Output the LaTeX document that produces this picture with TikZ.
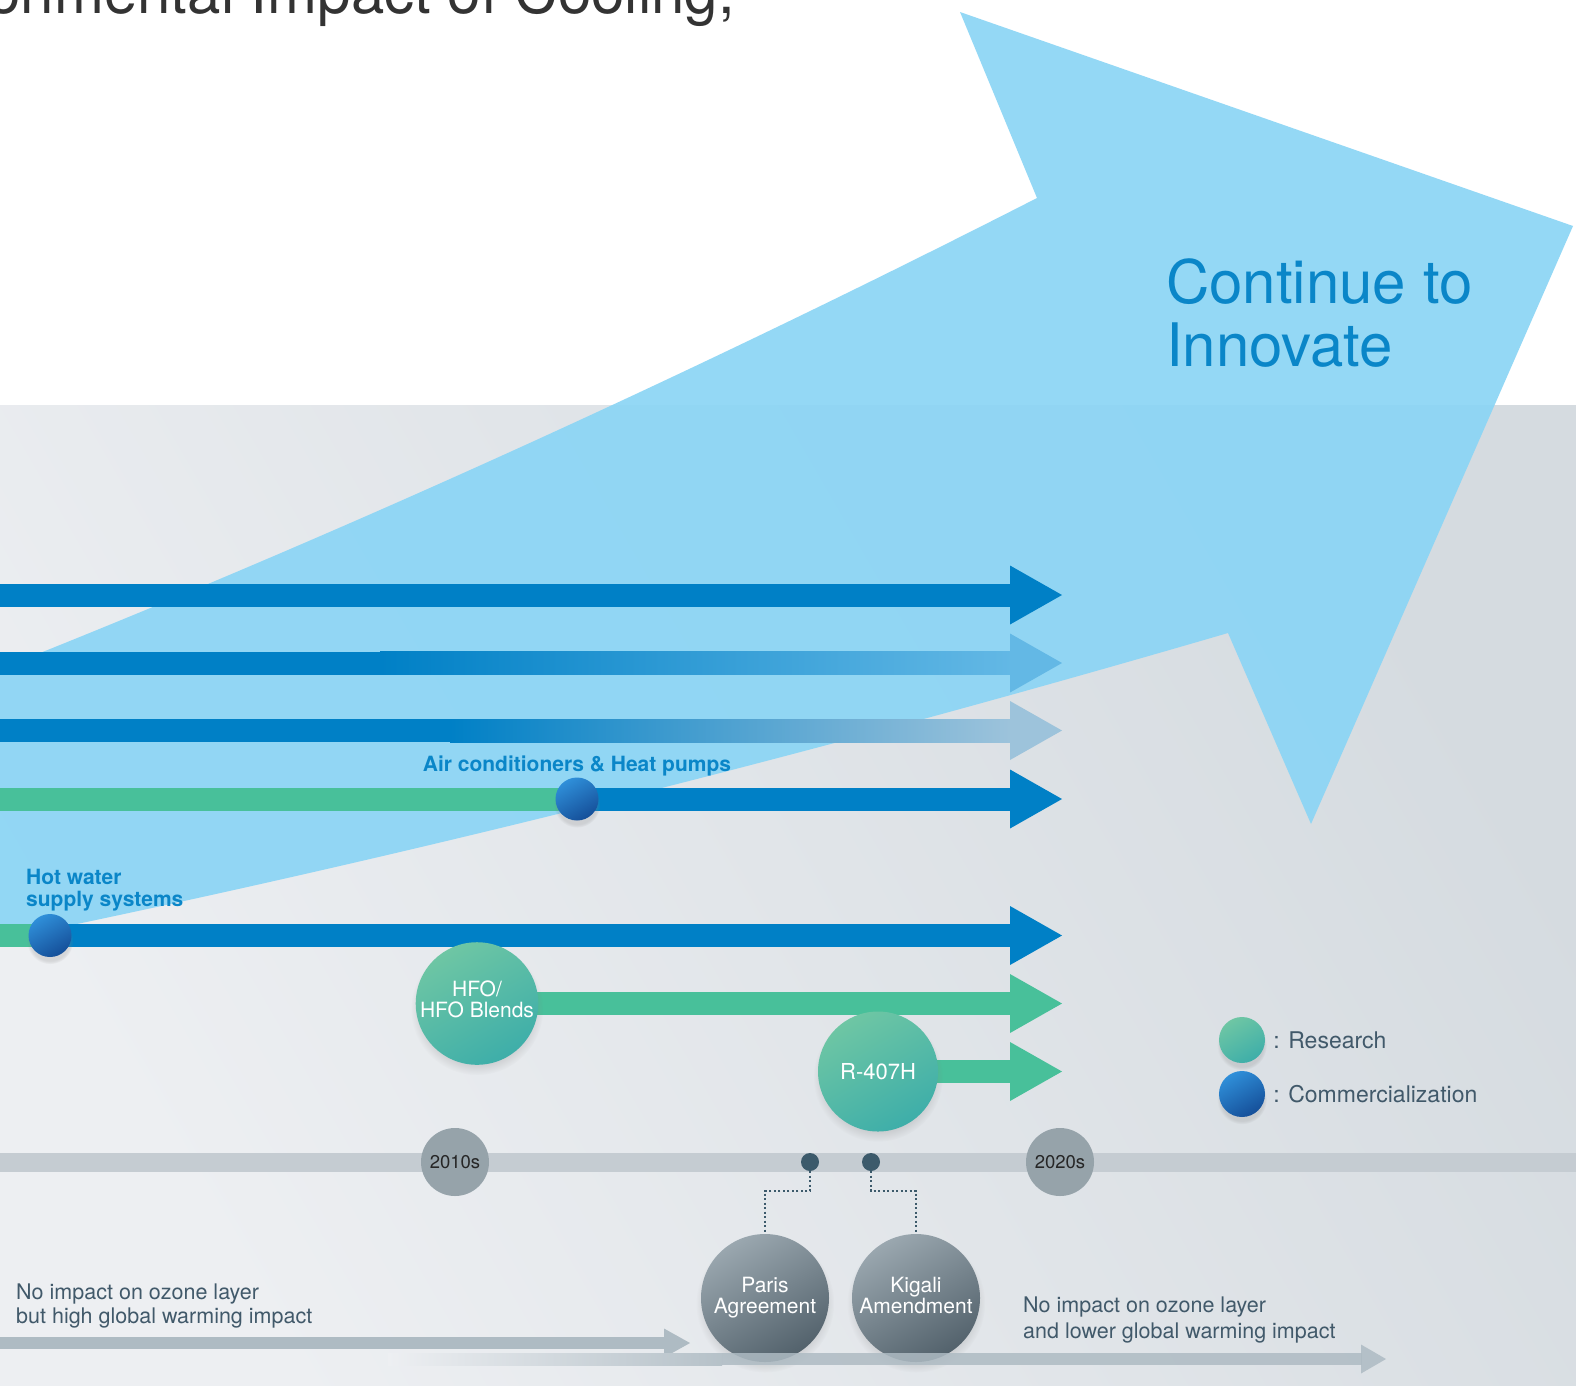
\documentclass[tikz,border=0pt]{standalone}
\usepackage{fontspec}
\setmainfont{TeX Gyre Heros}
\usetikzlibrary{positioning, calc, shadows}

\definecolor{cbar}{HTML}{0080C6}
\definecolor{cfade}{HTML}{63B8E5}
\definecolor{cgrey}{HTML}{9DC3DB}
\definecolor{cgreen}{HTML}{48C09A}
\definecolor{cbig}{HTML}{8BD5F5}
\definecolor{clabel}{HTML}{0A86C8}
\definecolor{ctext}{HTML}{41596A}
\definecolor{cline}{HTML}{C5CCD2}
\definecolor{cyear}{HTML}{96A3AA}
\definecolor{cevent}{HTML}{3C5A6B}
\definecolor{cshift}{HTML}{AEBBC3}
\definecolor{bglight}{HTML}{EDEFF2}
\definecolor{bgdark}{HTML}{D5DBE0}
\definecolor{gtop}{HTML}{6EC6A4}
\definecolor{gbot}{HTML}{3EAEA9}
\definecolor{btop}{HTML}{2F8FD9}
\definecolor{bbot}{HTML}{154F99}
\definecolor{ttop}{HTML}{9AA7AF}
\definecolor{tbot}{HTML}{53626C}
\definecolor{cheading}{HTML}{333333}

% arrow head of the timeline bars
\newcommand{\barhead}[2]{\fill[#1] ($(#2)+(-52,-29.5)$) -- (#2) -- ($(#2)+(-52,29.5)$) -- cycle;}

\begin{document}
\begin{tikzpicture}[x=1pt, y=-1pt,
  shaft/.style={line width=23pt},
  shiftbar/.style={line width=12pt, cshift},
  bubble/.style={circle, inner sep=0pt, text=white, align=center,
    font=\fontsize{21}{21}\selectfont,
    circular drop shadow={shadow xshift=0pt, shadow yshift=-5pt, shadow scale=1.08, opacity=0.22}},
  research/.style={bubble, minimum size=120pt, top color=gtop, bottom color=gbot, shading angle=30},
  commerc/.style={bubble, minimum size=43pt, top color=btop, bottom color=bbot, shading angle=30},
  treaty/.style={bubble, minimum size=128pt, top color=ttop, bottom color=tbot, shading angle=30},
  year/.style={circle, inner sep=0pt, minimum size=68pt, fill=cyear, text=black!85,
    font=\fontsize{18.5}{18.5}\selectfont},
  event/.style={circle, inner sep=0pt, minimum size=18pt, fill=cevent},
  link/.style={cevent, line width=2pt, dash pattern=on 2pt off 2.5pt},
  lbl/.style={inner sep=0pt, text=clabel, font=\bfseries\fontsize{21}{22}\selectfont},
  note/.style={inner sep=0pt, text=ctext, align=left},
  legend/.style={inner sep=0pt, text=ctext, font=\fontsize{23}{23}\selectfont},
  slogan/.style={inner sep=0pt, text=clabel, font=\fontsize{60}{63}\selectfont},
  heading/.style={inner sep=0pt, text=cheading, font=\fontsize{60}{60}\selectfont}]
\useasboundingbox (0,0) rectangle (1576,1385);

% Background
\fill[white] (0,0) rectangle (1576,405);
\shade[left color=bglight, right color=bgdark, shading angle=120] (0,405) rectangle (1576,1385);

% Heading, cut by the top edge
\node[heading, anchor=base east] (heading) at (735,13) {Environmental Impact of Cooling,};

% Big arrow
\fill[cbig, fill opacity=0.92] (0,669) .. controls (350,530) and (700,370) .. (1037,198)
  -- (960,12) -- (1573,226) -- (1311,824) -- (1228,633)
  .. controls (800,758) and (400,858) .. (0,940) -- cycle;
\node[slogan, anchor=base west] (cont) at (1166,303) {Continue to};
\node[slogan, anchor=base west] (innov) at (1166,366) {Innovate};

% Bar tips
\foreach \n/\yy in {1/595, 2/663, 3/730.5, 4/799, 5/935.5, 6/1003.5, 7/1071.5}
  \coordinate (tip\n) at (1062,\yy);
\coordinate (acpos) at (577,799);
\coordinate (hwpos) at (50,935.5);
\coordinate (hfopos) at (477,1003.5);
\coordinate (rpos) at (878,1071.5);

% Bars
\draw[shaft, cbar] (0,595) -- ($(tip1)+(-50,0)$);
\barhead{cbar}{tip1}
\fill[cbar] (0,651.5) rectangle (382,674.5);
\shade[left color=cbar, right color=cfade] (380,651.5) rectangle (1012,674.5);
\barhead{cfade}{tip2}
\fill[cbar] (0,719) rectangle (452,742);
\shade[left color=cbar, right color=cgrey] (450,719) rectangle (1012,742);
\barhead{cgrey}{tip3}
\draw[shaft, cgreen] (0,799) -- (acpos);
\draw[shaft, cbar] (acpos) -- ($(tip4)+(-50,0)$);
\barhead{cbar}{tip4}
\draw[shaft, cgreen] (0,935.5) -- (hwpos);
\draw[shaft, cbar] (hwpos) -- ($(tip5)+(-50,0)$);
\barhead{cbar}{tip5}
\draw[shaft, cgreen] (hfopos) -- ($(tip6)+(-50,0)$);
\barhead{cgreen}{tip6}
\draw[shaft, cgreen] (rpos) -- ($(tip7)+(-50,0)$);
\barhead{cgreen}{tip7}

% Milestones on the bars
\node[commerc] (acdot) at (acpos) {};
\node[commerc] (hwdot) at (hwpos) {};
\node[research] (hfo) at (hfopos) {HFO/\\HFO Blends\rule[-9pt]{0pt}{0pt}};
\node[research, font=\fontsize{22}{22}\selectfont] (r407) at (rpos) {R-407H};
\node[lbl, anchor=base] (aclabel) at (577,771) {Air conditioners \& Heat pumps};
\node[lbl, anchor=north west, align=left] (hwlabel) at (26,869) {Hot water\\supply systems};

% Timeline
\draw[line width=19pt, cline] (0,1162) -- (1576,1162);
\node[year] (y2010) at (455,1162) {2010s};
\node[year] (y2020) at (1060,1162) {2020s};
\node[event] (pdot) at (810,1162) {};
\node[event] (kdot) at (871,1162) {};
\node[treaty] (paris) at (765,1298) {Paris\\Agreement};
\node[treaty] (kigali) at (916,1298) {Kigali\\Amendment\vphantom{g}};
\draw[link] (pdot) -- ++(0,29) -| (paris);
\draw[link] (kdot) -- ++(0,29) -| (kigali);

% Refrigerant shift
\coordinate (oldtip) at (690,1343);
\coordinate (newtip) at (1386,1359);
\draw[shiftbar] (0,1343) -- ($(oldtip)+(-24,0)$);
\fill[cshift] ($(oldtip)+(-26,-14.5)$) -- (oldtip) -- ($(oldtip)+(-26,14.5)$) -- cycle;
\shade[left color=bglight, right color=cshift!88!bglight] (388,1353) rectangle (722,1365);
\draw[shiftbar, opacity=0.85] (722,1359) -- ($(newtip)+(-24,0)$);
\fill[cshift, opacity=0.85] ($(newtip)+(-25,-14.5)$) -- (newtip) -- ($(newtip)+(-25,14.5)$) -- cycle;
\node[note, anchor=north west, font=\fontsize{21.5}{24}\selectfont] (oldnote) at (16,1284)
  {No impact on ozone layer\\but high global warming impact};
\node[note, anchor=north west, font=\fontsize{21.5}{26}\selectfont] (newnote) at (1023,1296.5)
  {No impact on ozone layer\\and lower global warming impact};

% Legend
\node[research, minimum size=46pt] (legr) at (1242,1040) {};
\node[legend, right=8pt of legr] (legrtext) {: Research};
\node[commerc, minimum size=46pt] (legc) at (1242,1094) {};
\node[legend, right=8pt of legc] (legctext) {: Commercialization};
\end{tikzpicture}
\end{document}
